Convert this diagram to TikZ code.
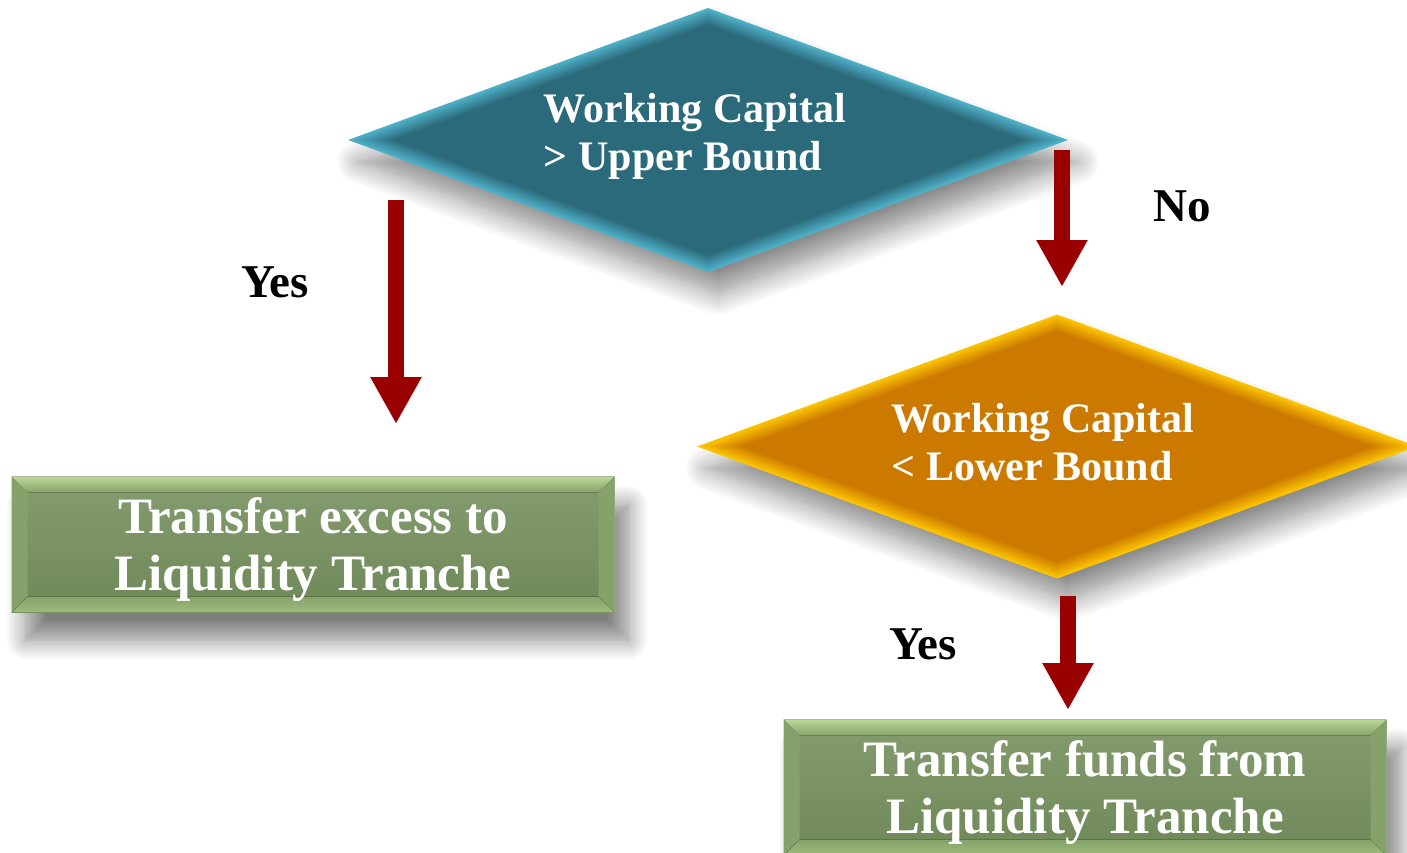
\documentclass[tikz,border=0pt]{standalone}
\usepackage{fontspec}
\setmainfont{Liberation Serif}
\usetikzlibrary{shapes.geometric,arrows.meta,shadows.blur}

\definecolor{upperfill}{HTML}{2B6A7B}
\definecolor{upperedge}{HTML}{4FB0C8}
\definecolor{lowerfill}{HTML}{CC7900}
\definecolor{loweredge}{HTML}{FCC400}
\definecolor{boxfill}{HTML}{748E5C}
\definecolor{boxtop}{HTML}{BBD898}
\definecolor{boxside}{HTML}{86A26A}
\definecolor{boxbottom}{HTML}{9CBC7B}
\definecolor{flowred}{HTML}{990000}

\begin{document}
\begin{tikzpicture}[x=1pt, y=-1pt,
    decision/.style={diamond, minimum width=720pt, minimum height=264pt,
        shape aspect=2.727, inner sep=0pt, outer sep=0pt,
        blur shadow={shadow xshift=10pt, shadow yshift=-22pt,
            shadow blur radius=22pt, shadow blur steps=14, shadow opacity=45}},
    dtext/.style={text=white, font=\bfseries\fontsize{42}{48}\selectfont,
        align=left, inner sep=0pt},
    action/.style={rectangle, minimum width=602pt, minimum height=135pt,
        top color=boxfill!88!white, bottom color=boxfill!96!black,
        draw=boxside!70!white, line width=1pt, inner sep=0pt,
        blur shadow={shadow xshift=14pt, shadow yshift=-28pt,
            shadow blur radius=20pt, shadow blur steps=14, shadow opacity=50}},
    atext/.style={text=white, font=\bfseries\fontsize{51}{57}\selectfont,
        align=center, inner sep=0pt},
    answer/.style={font=\bfseries\fontsize{47}{47}\selectfont, anchor=base},
    flow/.style={flowred, line width=16pt, -{Triangle[width=48pt,length=47pt]}}
]
    \useasboundingbox (0,0) rectangle (1407,853);

    % the two tests
    \node[decision, fill=upperedge] (upper) at (708,140) {};
    \node[decision, fill=loweredge] (lower) at (1057,446.5) {};
    \foreach \d in {upper, lower} {
        \foreach \k [evaluate=\k as \s using 1-0.0125*\k,
                     evaluate=\k as \m using int(10*\k)] in {1,...,10} {
            \fill[fill=\d fill!\m!\d edge, shift={(\d.center)}]
                (-360*\s,0) -- (0,-132*\s) -- (360*\s,0) -- (0,132*\s) -- cycle;
        }
    }
    \node[dtext] (uppertext) at ([xshift=-13pt,yshift=4pt]upper.center)
        {Working Capital\\> Upper Bound};
    \node[dtext] (lowertext) at ([xshift=-14pt,yshift=4pt]lower.center)
        {Working Capital\\< Lower Bound};

    % the two transfers
    \node[action] (excess) at (313,544.5) {};
    \node[action] (funds) at (1085,787.5) {};
    \foreach \b in {excess, funds} {
        \fill[top color=boxtop, bottom color=boxside]
            (\b.north west) -- (\b.north east)
            -- ([shift={(-16pt,-16pt)}]\b.north east)
            -- ([shift={(16pt,-16pt)}]\b.north west) -- cycle;
        \fill[boxside]
            (\b.north west) -- ([shift={(16pt,-16pt)}]\b.north west)
            -- ([shift={(16pt,16pt)}]\b.south west) -- (\b.south west) -- cycle;
        \fill[boxside]
            (\b.north east) -- ([shift={(-16pt,-16pt)}]\b.north east)
            -- ([shift={(-16pt,16pt)}]\b.south east) -- (\b.south east) -- cycle;
        \fill[top color=boxside, bottom color=boxbottom]
            (\b.south west) -- (\b.south east)
            -- ([shift={(-16pt,16pt)}]\b.south east)
            -- ([shift={(16pt,16pt)}]\b.south west) -- cycle;
    }
    \node[atext] (excesstext) at ([yshift=-5pt]excess.center)
        {Transfer excess to\\Liquidity Tranche};
    \node[atext] (fundstext) at ([yshift=-5pt]funds.center)
        {Transfer funds from\\Liquidity Tranche};

    % arrows
    \coordinate (yesfrom) at (396,200);
    \coordinate (yesto) at (396,424);
    \coordinate (nofrom) at (1062,150);
    \coordinate (noto) at (1062,287);
    \coordinate (lowfrom) at (1068,596);
    \coordinate (lowto) at (1068,710);
    \draw[flow] (yesfrom) -- (yesto);
    \draw[flow] (nofrom) -- (noto);
    \draw[flow] (lowfrom) -- (lowto);

    \node[answer] (yesleft) at (275,297) {Yes};
    \node[answer] (no) at (1182,221) {No};
    \node[answer] (yesright) at (923,659) {Yes};
\end{tikzpicture}
\end{document}
